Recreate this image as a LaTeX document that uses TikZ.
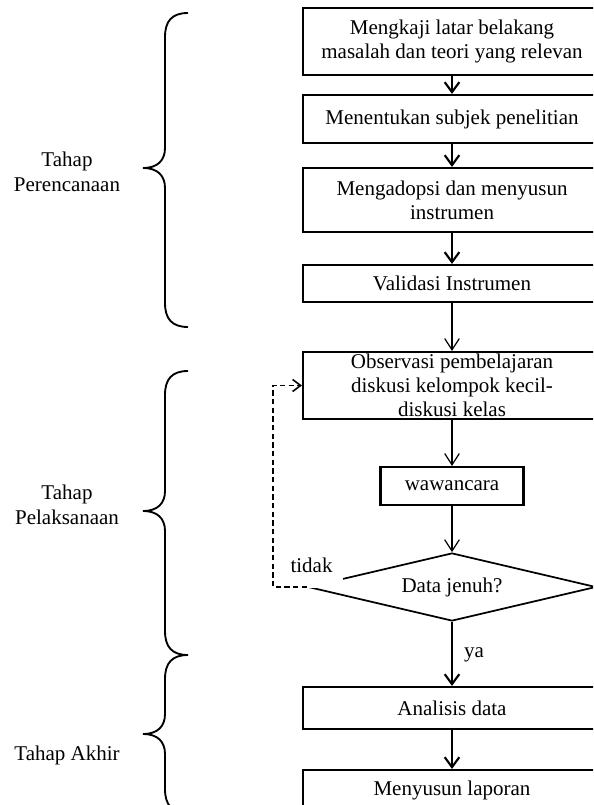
\documentclass[tikz,border=0pt]{standalone}
\usepackage{fontspec}
\setmainfont{Liberation Serif}
\usetikzlibrary{arrows.meta,shapes.geometric}
\newcommand\phasebrace[3]{%
  \draw[bracestyle] (188,#1) .. controls (172,#1) and (165,{#1+8}) .. (165,{#1+24})
    -- (165,{#2-20}) .. controls (165,{#2-8}) and (158,#2) .. (143,#2)
    .. controls (158,#2) and (165,{#2+8}) .. (165,{#2+20})
    -- (165,{#3-24}) .. controls (165,{#3-8}) and (172,#3) .. (188,#3);}
\begin{document}
\begin{tikzpicture}[x=0.75pt,y=-0.75pt,
  txt/.style={font=\fontsize{15.75}{18}\selectfont, align=center, inner sep=0pt},
  stepbox/.style={txt, draw, line width=1.6pt, minimum width=223.5pt},
  decision/.style={txt, draw, diamond, aspect=4.2, line width=1.3pt, minimum width=216pt, minimum height=51pt},
  thickarr/.style={-{Straight Barb[length=7.5pt,width=11pt]}, line width=1.6pt},
  thinarr/.style={-{Straight Barb[length=8.5pt,width=11pt]}, line width=0.9pt},
  loopline/.style={-{Straight Barb[length=6pt,width=9pt]}, line width=1.2pt, dash pattern=on 4pt off 2.5pt},
  bracestyle/.style={line width=1.4pt},
  lbl/.style={font=\fontsize{15.75}{18.75}\selectfont, align=center, inner sep=0pt}]
\useasboundingbox (0,0) rectangle (593,805);
\clip (0,0) rectangle (593,805);

% boxes
\node[stepbox, minimum height=50.25pt] (b1) at (452,41.5) {Mengkaji latar belakang\\masalah dan teori yang relevan};
\node[stepbox, minimum height=36pt] (b2) at (452,119) {Menentukan subjek penelitian};
\node[stepbox, minimum height=48pt] (b3) at (452,200) {Mengadopsi dan menyusun\\instrumen};
\node[stepbox, minimum height=27.75pt] (b4) at (452,283.5) {Validasi Instrumen};
\node[stepbox, minimum height=50.25pt] (b5) at (452,385.5) {Observasi pembelajaran\\diskusi kelompok kecil-\\diskusi kelas};
\node[txt, draw, line width=1.6pt, minimum width=107.25pt, minimum height=28.5pt] (w) at (452,486) {wawancara};
\node[decision] (d) at (452,587) {Data jenuh?};
\node[stepbox, minimum height=31.5pt] (an) at (452,708) {Analisis data};
\node[stepbox, minimum height=30pt] (ml) at (452,790) {Menyusun laporan};

% label boxes
\node[txt, fill=white, minimum width=47.25pt, minimum height=33.75pt] (tidak) at (311.5,565) {tidak};
\node[txt] (ya) at (474,655) {ya};

% arrows
\draw[thickarr] (b1) -- (b2);
\draw[thickarr] (b2) -- (b3);
\draw[thickarr] (b3) -- (b4);
\draw[thinarr] (b4) -- (b5);
\draw[thinarr] (b5) -- (w);
\draw[thinarr] (w) -- (d);
\draw[thickarr] (d) -- (an);
\draw[thickarr] (an) -- (ml);
\coordinate (lp) at (273,587);
\draw[loopline] (d.west) -- (lp) |- (b5.west);

% braces
\phasebrace{13}{168}{327}
\phasebrace{371}{511}{655}
\phasebrace{655}{734}{813}

\node[lbl] (l1) at (67,172) {Tahap\\Perencanaan};
\node[lbl] (l2) at (67,505) {Tahap\\Pelaksanaan};
\node[lbl] (l3) at (67,755) {Tahap Akhir};
\end{tikzpicture}
\end{document}
